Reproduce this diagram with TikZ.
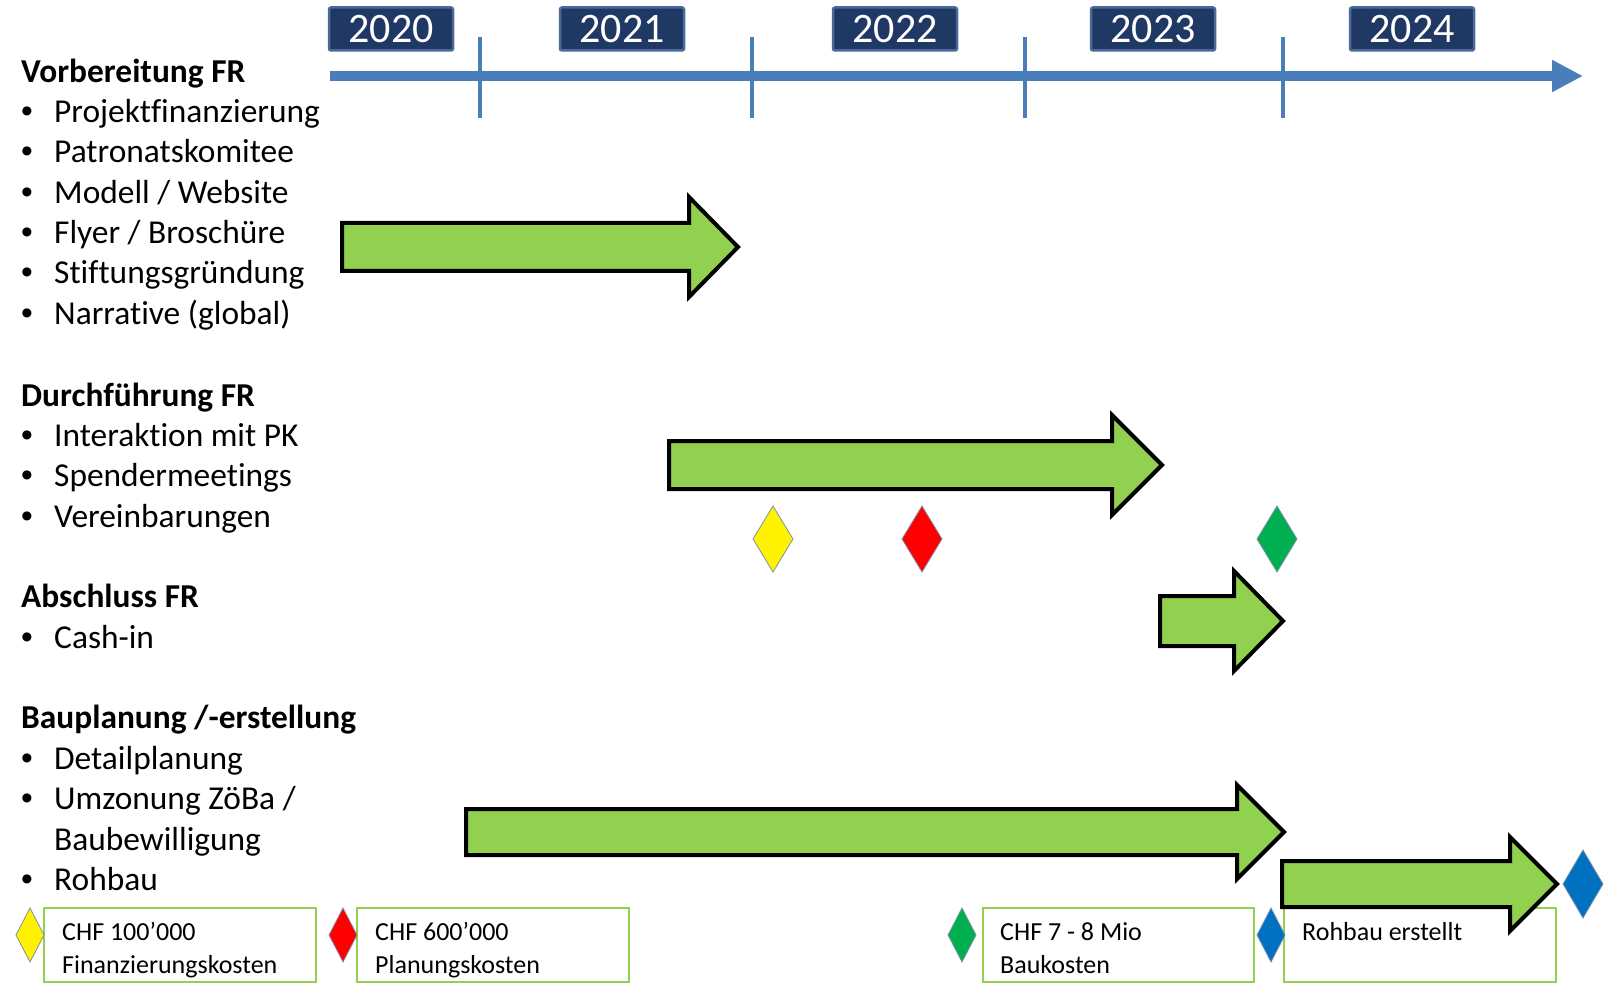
\documentclass[tikz,border=0pt]{standalone}
\usepackage{fontspec}
\setmainfont{Carlito}[Ligatures=NoCommon]
\newfontfamily\bulletfont{Liberation Sans}
\usetikzlibrary{arrows.meta}
\definecolor{tlblue}{HTML}{4A7EBB}
\definecolor{navy}{HTML}{1F3864}
\definecolor{navyedge}{HTML}{4A6A9A}
\definecolor{lgreen}{HTML}{92D050}
\definecolor{mgreen}{HTML}{00B050}
\definecolor{mblue}{HTML}{0070C0}
\definecolor{dedge}{HTML}{7F8FA6}
\newcommand\garrow[6]{%
  \draw[garrowst] (#1,#4-#5) -- (#2,#4-#5) -- (#2,#4-#6) -- (#3,#4) -- (#2,#4+#6) -- (#2,#4+#5) -- (#1,#4+#5) -- cycle;}
\newcommand\dmd[5]{%
  \path[dmdst,fill=#5,shift={(#1,#2)}] (0,-#4) -- (#3,0) -- (0,#4) -- (-#3,0) -- cycle;}
\newcommand\bul{\makebox[33pt][l]{\bulletfont •}}
\begin{document}
\begin{tikzpicture}[x=1pt,y=-1pt,
  yearbox/.style={fill=navy, draw=navyedge, line width=2.5pt, rounded corners=2pt, minimum width=124pt, minimum height=43pt, text=white, font=\fontsize{42}{42}\selectfont, inner sep=0pt},
  head/.style={anchor=base west, inner sep=0pt, font=\fontsize{33.4}{40}\selectfont\bfseries},
  item/.style={anchor=base west, inner sep=0pt, font=\fontsize{33.4}{40}\selectfont},
  legtxt/.style={anchor=base west, inner sep=0pt, font=\fontsize{26}{32}\selectfont},
  legbox/.style={draw=lgreen, line width=2pt},
  garrowst/.style={fill=lgreen, draw=black, line width=4pt, line join=miter},
  dmdst/.style={draw=dedge, line width=0.8pt},
  tick/.style={draw=tlblue, line width=4pt}]
\useasboundingbox (0,0) rectangle (1612,984);

% timeline
\coordinate (tl0) at (330,76);
\coordinate (tl1) at (1583,76);
\draw[tlblue, line width=10pt, -{Triangle[length=31pt,width=30pt]}] (tl0) -- (tl1);
\foreach \tx in {480,752,1025,1283} \draw[tick] (\tx,37) -- (\tx,118);

% years
\node[yearbox] (y20) at (391,29) {2020};
\node[yearbox] (y21) at (622,29) {2021};
\node[yearbox] (y22) at (895,29) {2022};
\node[yearbox] (y23) at (1153,29) {2023};
\node[yearbox] (y24) at (1412,29) {2024};

% left texts
\node[head] (h1) at (21,83) {Vorbereitung FR};
\node[item] (i11) at (21,123) {\bul Projektfinanzierung};
\node[item] (i12) at (21,163) {\bul Patronatskomitee};
\node[item] (i13) at (21,204) {\bul Modell / Website};
\node[item] (i14) at (21,244) {\bul Flyer / Broschüre};
\node[item] (i15) at (21,284) {\bul Stiftungsgründung};
\node[item] (i16) at (21,325) {\bul Narrative (global)};

\node[head] (h2) at (21,406) {Durchführung FR};
\node[item] (i21) at (21,446) {\bul Interaktion mit PK};
\node[item] (i22) at (21,486) {\bul Spendermeetings};
\node[item] (i23) at (21,527) {\bul Vereinbarungen};

\node[head] (h3) at (21,607) {Abschluss FR};
\node[item] (i31) at (21,648) {\bul Cash-in};

\node[head] (h4) at (21,728) {Bauplanung /-erstellung};
\node[item] (i41) at (21,769) {\bul Detailplanung};
\node[item] (i42) at (21,809) {\bul Umzonung ZöBa /};
\node[item] (i43) at (54,850) {Baubewilligung};
\node[item] (i44) at (21,890) {\bul Rohbau};

% legend boxes
\draw[legbox] (44,908) rectangle (316,982);
\draw[legbox] (357,908) rectangle (629,982);
\draw[legbox] (983,908) rectangle (1254,982);
\draw[legbox] (1284,908) rectangle (1556,982);
\node[legtxt] (l1a) at (62,940) {CHF 100’000};
\node[legtxt] (l1b) at (62,973) {Finanzierungskosten};
\node[legtxt] (l2a) at (375,940) {CHF 600’000};
\node[legtxt] (l2b) at (375,973) {Planungskosten};
\node[legtxt] (l3a) at (1000,940) {CHF 7 - 8 Mio};
\node[legtxt] (l3b) at (1000,973) {Baukosten};
\node[legtxt] (l4a) at (1302,940) {Rohbau erstellt};

% green arrows
\garrow{342}{689}{738}{247}{24}{50}
\garrow{669}{1112}{1162}{465}{24}{50}
\garrow{1160}{1234}{1283}{621}{25}{50}
\garrow{466}{1237}{1284}{832}{23}{47}
\garrow{1282}{1510}{1557}{884}{23}{47}

% diamonds
\dmd{773}{539}{20}{33}{yellow}
\dmd{922}{539}{20}{33}{red}
\dmd{1277}{539}{20}{33}{mgreen}
\dmd{1583}{884}{20}{34}{mblue}
\dmd{30}{935}{14}{27}{yellow}
\dmd{343}{935}{14}{27}{red}
\dmd{962}{935}{14}{27}{mgreen}
\dmd{1271}{935}{14}{27}{mblue}
\end{tikzpicture}
\end{document}
